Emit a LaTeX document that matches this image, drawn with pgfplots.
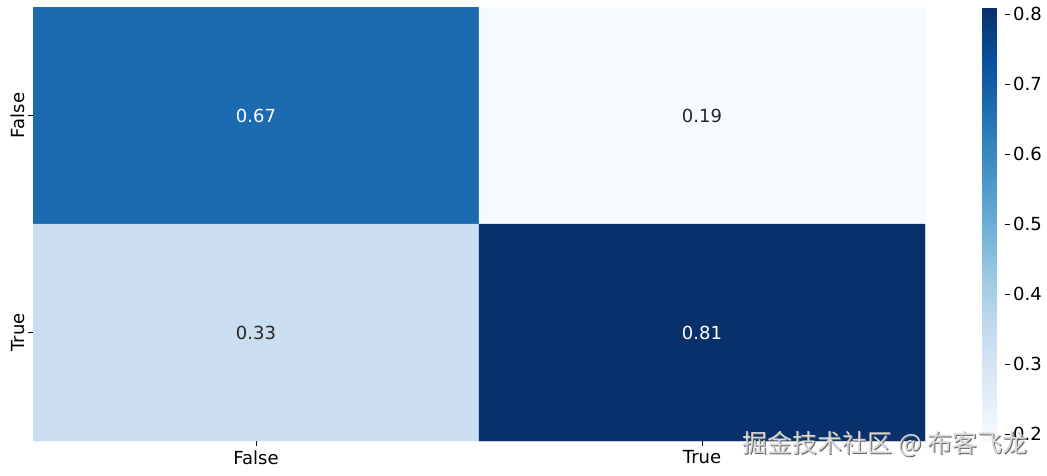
\documentclass[border=0pt]{standalone}
\usepackage{fontspec}
\setmainfont{DejaVu Sans}
\newfontfamily\cjk{Noto Sans CJK SC}
\usepackage{pgfplots}
\pgfplotsset{compat=1.18}
\definecolor{b1}{HTML}{F7FBFF}
\definecolor{b2}{HTML}{DEEBF7}
\definecolor{b3}{HTML}{C6DBEF}
\definecolor{b4}{HTML}{9ECAE1}
\definecolor{b5}{HTML}{6BAED6}
\definecolor{b6}{HTML}{4292C6}
\definecolor{b7}{HTML}{2171B5}
\definecolor{b8}{HTML}{08519C}
\definecolor{b9}{HTML}{08306B}
\begin{document}
\begin{tikzpicture}[x=1pt,y=1pt]
\useasboundingbox (0,0) rectangle (1047,475);
\begin{axis}[
  at={(33pt,34pt)}, anchor=south west,
  scale only axis, width=892pt, height=434pt,
  xmin=-0.5, xmax=1.5, ymin=-0.5, ymax=1.5,
  y dir=reverse, enlargelimits=false,
  axis line style={draw=none},
  xtick={0,1}, xticklabels={False,True},
  ytick={0,1}, yticklabels={False,True},
  xtick pos=bottom, ytick pos=left,
  yticklabel style={rotate=90, anchor=south},
  tick align=outside, major tick length=5pt,
  tick style={black, line width=0.8pt},
  ticklabel style={font=\fontsize{18}{22}\selectfont},
  xticklabel style={yshift=-1pt},
  colormap={blues}{color=(b1) color=(b2) color=(b3) color=(b4) color=(b5) color=(b6) color=(b7) color=(b8) color=(b9)},
  point meta min=0.19, point meta max=0.81,
  colorbar,
  colorbar style={
    at={(parent axis.north east)}, anchor=north west, xshift=49pt,
    scale only axis, width=22pt, height=434pt,
    axis line style={draw=none},
    ytick={0.2,0.3,0.4,0.5,0.6,0.7,0.8},
    ytick pos=right, yticklabel pos=right,
    yticklabel style={font=\fontsize{18}{22}\selectfont, /pgf/number format/fixed, /pgf/number format/precision=1, /pgf/number format/fixed zerofill, /pgf/number format/assume math mode=true},
    tick align=outside, major tick length=5pt,
    tick style={black, line width=0.8pt},
  },
]
\addplot[matrix plot*, mesh/cols=2, point meta=explicit] table[meta=c] {
x y c
0 0 0.67
1 0 0.19
0 1 0.33
1 1 0.81
};
\addplot[only marks, mark=none, nodes near coords, point meta=explicit symbolic,
  nodes near coords style={anchor=center, text=white, font=\fontsize{18}{22}\selectfont}] table[meta=t] {
x y t
0 0 0.67
1 1 0.81
};
\addplot[only marks, mark=none, nodes near coords, point meta=explicit symbolic,
  nodes near coords style={anchor=center, text=black!85, font=\fontsize{18}{22}\selectfont}] table[meta=t] {
x y t
1 0 0.19
0 1 0.33
};
\end{axis}
\node[anchor=east, text=black!60, font=\cjk\fontsize{25}{28}\selectfont] at (1032,30) {掘金技术社区 @ 布客飞龙};
\node[anchor=east, text=white!85!black, font=\cjk\fontsize{25}{28}\selectfont] at (1031,31) {掘金技术社区 @ 布客飞龙};
\end{tikzpicture}
\end{document}
